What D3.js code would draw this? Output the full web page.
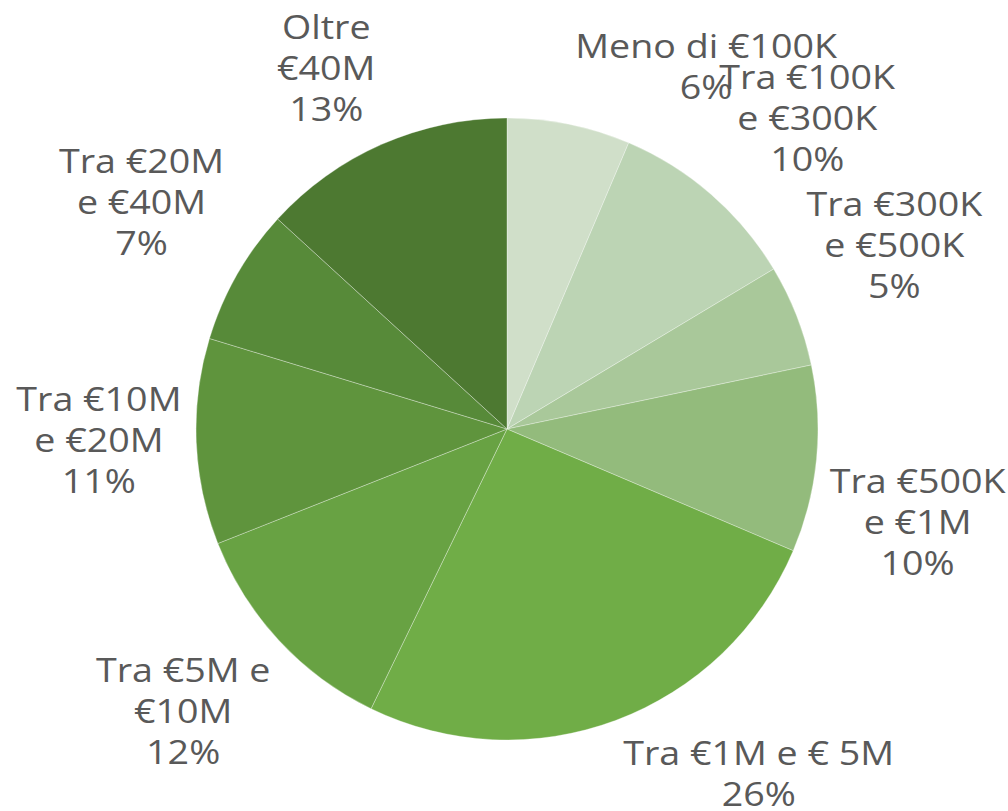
<!DOCTYPE html>
<html>
<head>
<meta charset="utf-8">
<script src="https://cdn.jsdelivr.net/npm/d3@7"></script>
<style>
  body { margin: 0; background: #fff; }
  svg { display: block; }
  .lbl { font-family: "Open Sans", sans-serif; font-size: 33px; fill: #595959; }
</style>
</head>
<body>
<svg id="chart"></svg>
<script>
// categories (each label line separated by |)
const categories = [
  "Meno di €100K",
  "Tra €100K|e €300K",
  "Tra €300K|e €500K",
  "Tra €500K|e €1M",
  "Tra €1M e € 5M",
  "Tra €5M e|€10M",
  "Tra €10M|e €20M",
  "Tra €20M|e €40M",
  "Oltre|€40M"
];
// share of each class, %
const shares = [6.4, 10.0, 5.3, 9.7, 25.8, 11.8, 10.7, 7.1, 13.2];
const colors = ["#d0dfc9", "#bcd4b4", "#a9c89a", "#93bb7c", "#70ad47",
                "#68a243", "#5f943d", "#578a39", "#4d7931"];

const width = 1008, height = 811;
const cx = 507, cy = 429, radius = 311;
const lineH = 41, gap = 20;
const stretch = 1.14; // reference text is set wide
// best-fit shifts of the label blocks, px
const nudge = [[110, 3], [32, -14], [7, -40], [4, 54], [94, -6],
               [-25, 13], [-5, -6], [-15, -32], [-30, 0]];

const svg = d3.select('#chart')
    .attr('width', width)
    .attr('height', height);

const g = svg.append('g')
    .attr('transform', `translate(${cx},${cy})`);

const pie = d3.pie().sort(null).value(d => d);
const arcs = pie(shares);
const arc = d3.arc().innerRadius(0).outerRadius(radius);

g.selectAll('.slice')
    .data(arcs)
  .join('path')
    .attr('class', 'slice')
    .attr('d', arc)
    .attr('fill', (d, i) => colors[i])
    .attr('stroke', 'rgba(255,255,255,0.45)')
    .attr('stroke-width', 0.7);

// labels: block sits just outside the arc at the mid angle
arcs.forEach((d, i) => {
    const a = (d.startAngle + d.endAngle) / 2;
    const lines = categories[i].split('|').concat([Math.round(shares[i]) + '%']);
    const t = g.append('text').attr('class', 'lbl').attr('text-anchor', 'middle');
    lines.forEach((s, k) => {
        t.append('tspan').attr('x', 0).attr('y', k * lineH).text(s);
    });
    const bb = t.node().getBBox();
    const [px, py] = d3.pointRadial(a, radius + gap);
    const bx = px + Math.sin(a) * bb.width / 2 + nudge[i][0];
    const by = py - Math.cos(a) * bb.height / 2 + nudge[i][1];
    t.attr('transform', `translate(${bx},${by - (bb.y + bb.height / 2)}) scale(${stretch},1)`);
});
</script>
</body>
</html>
